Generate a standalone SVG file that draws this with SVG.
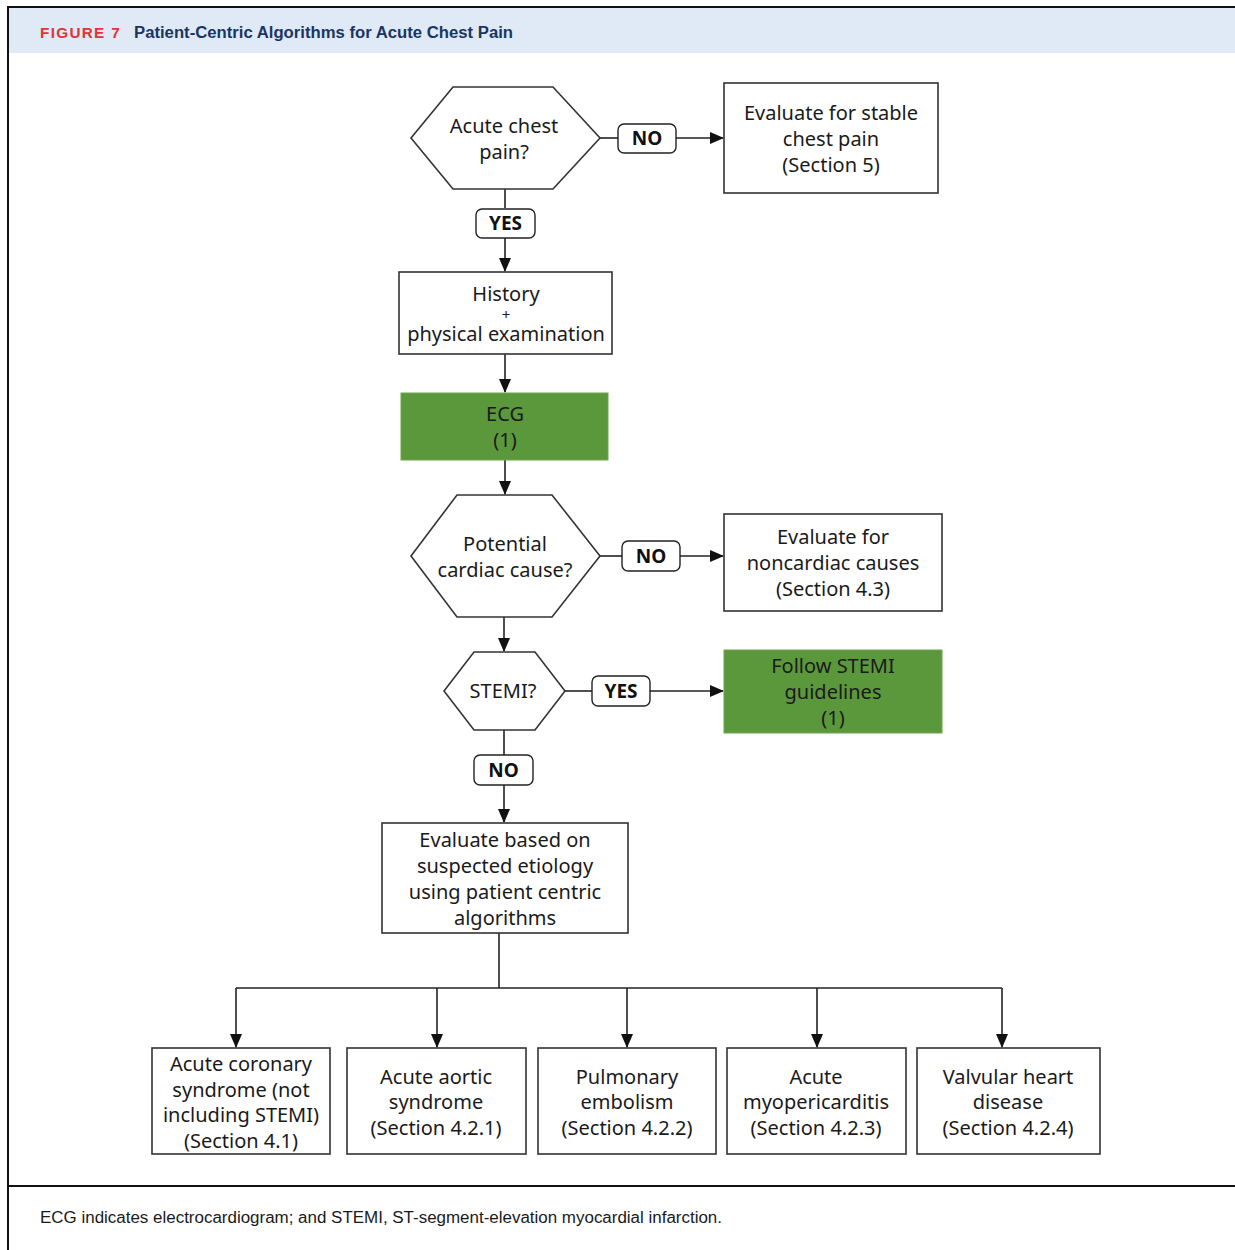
<svg xmlns="http://www.w3.org/2000/svg" width="1235" height="1250" viewBox="0 0 1235 1250">
<style>
.box{fill:#fff;stroke:#333;stroke-width:1.6}
.green{fill:#5b983c;stroke:#6aa84a;stroke-width:1}
.lbl{fill:#fff;stroke:#222;stroke-width:1.4}
.t{font-family:"Noto Sans","Open Sans",sans-serif;font-size:20px;fill:#1a1a1a;text-anchor:middle}
.b{font-family:"Noto Sans","Open Sans",sans-serif;font-size:19px;font-weight:bold;fill:#111;text-anchor:middle}
.ln{fill:none;stroke:#222;stroke-width:1.6}
.plus{font-size:15px}
</style>
<defs>
<marker id="ah" markerWidth="14" markerHeight="12" refX="13" refY="6" orient="auto" markerUnits="userSpaceOnUse">
<path d="M0,0 L14,6 L0,12 Z" fill="#111"/>
</marker>
</defs>
<rect x="0" y="0" width="1235" height="1250" fill="#fff"/>
<g id="frame">
<rect x="8" y="8" width="1227" height="45" fill="#dfeaf6"/>
<line x1="7" y1="7" x2="1235" y2="7" stroke="#111" stroke-width="2"/>
<line x1="8" y1="6" x2="8" y2="1250" stroke="#111" stroke-width="2"/>
<line x1="8" y1="1186" x2="1235" y2="1186" stroke="#111" stroke-width="2"/>
<text x="40" y="38" font-family="'Liberation Sans',Arial,sans-serif" font-size="14" font-weight="bold" fill="#e3323a" letter-spacing="1.2" textLength="81" lengthAdjust="spacingAndGlyphs">FIGURE 7</text>
<text x="134" y="38" font-family="'Liberation Sans',Arial,sans-serif" font-size="16" font-weight="bold" fill="#1b3563" textLength="379" lengthAdjust="spacingAndGlyphs">Patient-Centric Algorithms for Acute Chest Pain</text>
<text x="40" y="1223" font-family="'Liberation Sans',Arial,sans-serif" font-size="16" fill="#1a1a1a" textLength="682" lengthAdjust="spacingAndGlyphs">ECG indicates electrocardiogram; and STEMI, ST-segment-elevation myocardial infarction.</text>
</g>
<g id="connectors">
<line class="ln" x1="600" y1="138" x2="618" y2="138"/>
<line class="ln" x1="676" y1="138" x2="723" y2="138" marker-end="url(#ah)"/>
<line class="ln" x1="505" y1="189" x2="505" y2="208"/>
<line class="ln" x1="505" y1="238" x2="505" y2="271" marker-end="url(#ah)"/>
<line class="ln" x1="505" y1="354" x2="505" y2="392" marker-end="url(#ah)"/>
<line class="ln" x1="505" y1="460" x2="505" y2="494" marker-end="url(#ah)"/>
<line class="ln" x1="600" y1="556" x2="622" y2="556"/>
<line class="ln" x1="680" y1="556" x2="723" y2="556" marker-end="url(#ah)"/>
<line class="ln" x1="504" y1="617" x2="504" y2="651" marker-end="url(#ah)"/>
<line class="ln" x1="565" y1="691" x2="592" y2="691"/>
<line class="ln" x1="650" y1="691" x2="723" y2="691" marker-end="url(#ah)"/>
<line class="ln" x1="504" y1="730" x2="504" y2="755"/>
<line class="ln" x1="504" y1="785" x2="504" y2="822" marker-end="url(#ah)"/>
<line class="ln" x1="499" y1="933" x2="499" y2="988"/>
<line class="ln" x1="236" y1="988" x2="1002" y2="988"/>
<line class="ln" x1="236" y1="988" x2="236" y2="1047" marker-end="url(#ah)"/>
<line class="ln" x1="437" y1="988" x2="437" y2="1047" marker-end="url(#ah)"/>
<line class="ln" x1="627" y1="988" x2="627" y2="1047" marker-end="url(#ah)"/>
<line class="ln" x1="817" y1="988" x2="817" y2="1047" marker-end="url(#ah)"/>
<line class="ln" x1="1002" y1="988" x2="1002" y2="1047" marker-end="url(#ah)"/>
</g>
<g id="labels">
<rect class="lbl" x="618" y="124" width="58" height="29" rx="6"/>
<text class="b" x="647" y="145">NO</text>
<rect class="lbl" x="476" y="209" width="59" height="29" rx="6"/>
<text class="b" x="505.5" y="230">YES</text>
<rect class="lbl" x="622" y="541" width="58" height="30" rx="6"/>
<text class="b" x="651" y="563">NO</text>
<rect class="lbl" x="592" y="676" width="58" height="30" rx="6"/>
<text class="b" x="621" y="698">YES</text>
<rect class="lbl" x="474" y="755" width="59" height="30" rx="6"/>
<text class="b" x="503.5" y="777">NO</text>
</g>
<g id="n_acute">
<polygon class="box" points="411,138 453,87 553,87 600,138 553,189 453,189"/>
<text class="t" x="504" y="133">Acute chest</text>
<text class="t" x="504" y="159">pain?</text>
</g>
<g id="n_stable">
<rect class="box" x="724" y="83" width="214" height="110"/>
<text class="t" x="831" y="120">Evaluate for stable</text>
<text class="t" x="831" y="146">chest pain</text>
<text class="t" x="831" y="172">(Section 5)</text>
</g>
<g id="n_history">
<rect class="box" x="399" y="272" width="213" height="82"/>
<text class="t"><tspan x="506" y="301">History</tspan><tspan class="plus" x="506" y="320">+</tspan><tspan x="506" y="341">physical examination</tspan></text>
</g>
<g id="n_ecg">
<rect class="green" x="401" y="393" width="207" height="67"/>
<text class="t" x="505" y="421">ECG</text>
<text class="t" x="505" y="447">(1)</text>
</g>
<g id="n_cardiac">
<polygon class="box" points="411,556 457,495 552,495 600,556 552,617 457,617"/>
<text class="t" x="505" y="551">Potential</text>
<text class="t" x="505" y="577">cardiac cause?</text>
</g>
<g id="n_noncardiac">
<rect class="box" x="724" y="514" width="218" height="97"/>
<text class="t" x="833" y="544">Evaluate for</text>
<text class="t" x="833" y="570">noncardiac causes</text>
<text class="t" x="833" y="596">(Section 4.3)</text>
</g>
<g id="n_stemi">
<polygon class="box" points="444,691 474,652 535,652 565,691 535,730 474,730"/>
<text class="t" x="503" y="698">STEMI?</text>
</g>
<g id="n_follow">
<rect class="green" x="724" y="650" width="218" height="83"/>
<text class="t" x="833" y="673">Follow STEMI</text>
<text class="t" x="833" y="699">guidelines</text>
<text class="t" x="833" y="725">(1)</text>
</g>
<g id="n_evaluate">
<rect class="box" x="382" y="823" width="246" height="110"/>
<text class="t" x="505" y="847">Evaluate based on</text>
<text class="t" x="505" y="873">suspected etiology</text>
<text class="t" x="505" y="899">using patient centric</text>
<text class="t" x="505" y="925">algorithms</text>
</g>
<g id="n_acs">
<rect class="box" x="152" y="1048" width="178" height="106"/>
<text class="t" x="241" y="1071">Acute coronary</text>
<text class="t" x="241" y="1097">syndrome (not</text>
<text class="t" x="241" y="1122">including STEMI)</text>
<text class="t" x="241" y="1148">(Section 4.1)</text>
</g>
<g id="n_aortic">
<rect class="box" x="347" y="1048" width="179" height="106"/>
<text class="t" x="436" y="1084">Acute aortic</text>
<text class="t" x="436" y="1109">syndrome</text>
<text class="t" x="436" y="1135">(Section 4.2.1)</text>
</g>
<g id="n_pe">
<rect class="box" x="538" y="1048" width="178" height="106"/>
<text class="t" x="627" y="1084">Pulmonary</text>
<text class="t" x="627" y="1109">embolism</text>
<text class="t" x="627" y="1135">(Section 4.2.2)</text>
</g>
<g id="n_myo">
<rect class="box" x="727" y="1048" width="179" height="106"/>
<text class="t" x="816" y="1084">Acute</text>
<text class="t" x="816" y="1109">myopericarditis</text>
<text class="t" x="816" y="1135">(Section 4.2.3)</text>
</g>
<g id="n_valve">
<rect class="box" x="917" y="1048" width="183" height="106"/>
<text class="t" x="1008" y="1084">Valvular heart</text>
<text class="t" x="1008" y="1109">disease</text>
<text class="t" x="1008" y="1135">(Section 4.2.4)</text>
</g>
</svg>
